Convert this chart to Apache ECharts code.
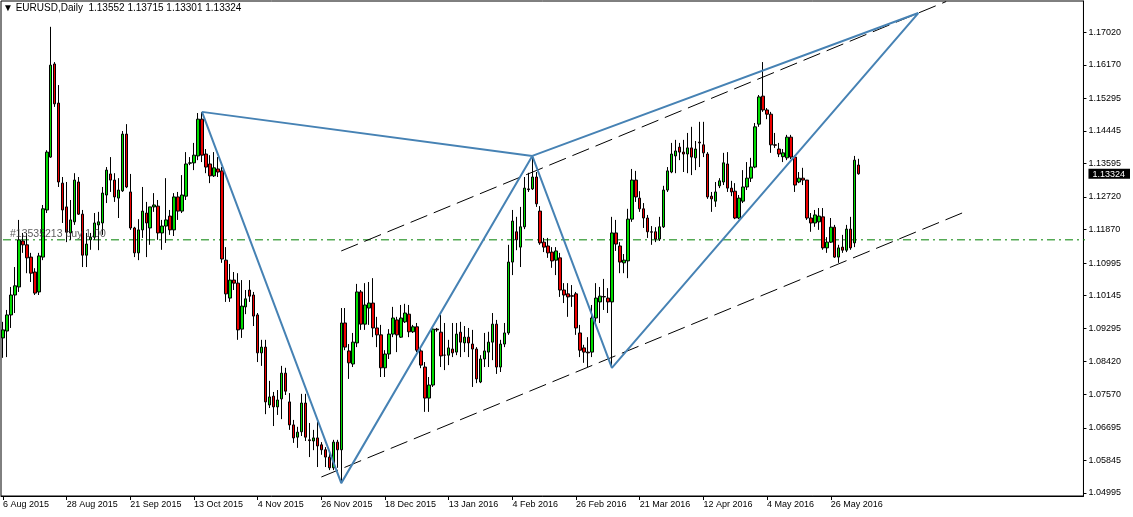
<!DOCTYPE html>
<html>
<head>
<meta charset="utf-8">
<script src="https://cdn.jsdelivr.net/npm/echarts@6/dist/echarts.min.js"></script>
<style>
html,body{margin:0;padding:0;background:#fff;}
#chart{width:1133px;height:517px;}
</style>
</head>
<body>
<div id="chart"></div>
<script>
// ---- Data (EURUSD daily) ----
const opens = [
1.0904,1.0922,1.0964,1.1016,1.1037,1.1157,1.1147,1.1115,1.1076,1.1024,
1.1115,1.1238,1.1376,1.1619,1.1517,1.1308,1.1246,1.1178,1.1207,1.1311,
1.1227,1.1120,1.1160,1.1167,1.1199,1.1204,1.1277,1.1332,1.1316,1.1269,
1.1288,1.1436,1.1285,1.1191,1.1126,1.1186,1.1230,1.1191,1.1246,1.1248,
1.1178,1.1196,1.1222,1.1186,1.1272,1.1235,1.1274,1.1360,1.1361,1.1379,
1.1475,1.1384,1.1358,1.1327,1.1345,1.1340,1.1107,1.1008,1.1055,1.1047,
1.0927,1.0985,1.1029,1.1016,1.0964,1.0865,1.0880,1.0729,1.0752,1.0724,
1.0745,1.0812,1.0737,1.0677,1.0645,1.0659,1.0734,1.0638,1.0635,1.0643,
1.0625,1.0612,1.0593,1.0565,1.0632,1.0612,1.0943,1.0870,1.0836,1.0891,
1.1024,1.0940,1.0982,1.0995,1.0930,1.0912,1.0826,1.0862,1.0914,1.0951,
1.0906,1.0946,1.0966,1.0920,1.0933,1.0870,1.0828,1.0747,1.0781,1.0927,
1.0919,1.0859,1.0859,1.0875,1.0867,1.0919,1.0891,1.0906,1.0888,1.0875,
1.0789,1.0849,1.0867,1.0893,1.0940,1.0828,1.0888,1.0917,1.1102,1.1181,
1.1141,1.1194,1.1293,1.1293,1.1324,1.1235,1.1154,1.1144,1.1128,1.1107,
1.1113,1.1029,1.1019,1.1014,1.1019,1.0917,1.0878,1.0867,1.0867,1.0956,
1.0998,1.1012,1.1008,1.0998,1.1178,1.1144,1.1100,1.1105,1.1214,1.1316,
1.1269,1.1241,1.1217,1.1181,1.1181,1.1162,1.1194,1.1290,1.1337,1.1379,
1.1402,1.1389,1.1384,1.1400,1.1374,1.1415,1.1408,1.1384,1.1274,1.1261,
1.1301,1.1311,1.1358,1.1295,1.1287,1.1217,1.1261,1.1298,1.1321,1.1350,
1.1462,1.1535,1.1499,1.1488,1.1408,1.1397,1.1377,1.1374,1.1428,1.1376,
1.1311,1.1321,1.1316,1.1217,1.1204,1.1207,1.1220,1.1139,1.1154,1.1193,
1.1115,1.1141,1.1133,1.1188,1.1152,1.13552];
const highs = [
1.0946,1.0977,1.1037,1.1089,1.1212,1.1178,1.1178,1.1126,1.1086,1.1126,
1.1251,1.1394,1.1716,1.1624,1.1564,1.1324,1.1311,1.1264,1.1334,1.1324,
1.1238,1.1178,1.1178,1.1230,1.1233,1.1298,1.1350,1.1376,1.1334,1.1321,
1.1444,1.1462,1.1332,1.1194,1.1214,1.1298,1.1259,1.1246,1.1282,1.1264,
1.1212,1.1321,1.1238,1.1282,1.1285,1.1329,1.1389,1.1376,1.1413,1.1491,
1.1494,1.1397,1.1381,1.1389,1.1376,1.1350,1.1141,1.1097,1.1076,1.1073,
1.1055,1.1029,1.1055,1.1024,1.0969,1.0899,1.0899,1.0792,1.0763,1.0768,
1.0831,1.0826,1.0760,1.0690,1.0672,1.0758,1.0758,1.0682,1.0664,1.0685,
1.0632,1.0619,1.0606,1.0638,1.0638,1.0982,1.0982,1.0888,1.0917,1.1045,
1.1029,1.1047,1.1050,1.1060,1.0959,1.0938,1.0872,1.0927,1.0985,1.0959,
1.0990,1.0993,1.0990,1.0938,1.0943,1.0880,1.0841,1.0802,1.0933,1.0930,
1.0964,1.0943,1.0899,1.0943,1.0943,1.0946,1.0935,1.0930,1.0925,1.0880,
1.0859,1.0917,1.0920,1.0969,1.0951,1.0899,1.0943,1.1147,1.1238,1.1220,
1.1246,1.1324,1.1335,1.1379,1.1337,1.1248,1.1165,1.1165,1.1141,1.1141,
1.1126,1.1047,1.1047,1.1042,1.1024,1.0938,1.0886,1.0906,1.0990,1.1047,
1.1037,1.1058,1.1034,1.1220,1.1212,1.1154,1.1123,1.1241,1.1345,1.1340,
1.1287,1.1256,1.1225,1.1196,1.1193,1.1220,1.1301,1.1350,1.1413,1.1421,
1.1413,1.1421,1.1439,1.1455,1.1418,1.1468,1.1468,1.1389,1.1285,1.1311,
1.1321,1.1387,1.1389,1.1314,1.1308,1.1277,1.1342,1.1363,1.1374,1.1465,
1.1538,1.1624,1.1504,1.1494,1.1439,1.1413,1.1397,1.1434,1.1434,1.1380,
1.1337,1.1348,1.1316,1.1230,1.1238,1.1243,1.1243,1.1167,1.1217,1.1199,
1.1147,1.1173,1.1199,1.1220,1.1379,1.13715];
const lows = [
1.0852,1.0854,1.0930,1.0969,1.1024,1.1126,1.1073,1.1050,1.1016,1.1016,
1.1107,1.1230,1.1374,1.1507,1.1298,1.1204,1.1154,1.1160,1.1199,1.1225,
1.1089,1.1089,1.1134,1.1160,1.1133,1.1173,1.1256,1.1285,1.1259,1.1217,
1.1285,1.1295,1.1186,1.1115,1.1107,1.1165,1.1115,1.1147,1.1233,1.1160,
1.1134,1.1152,1.1173,1.1170,1.1212,1.1230,1.1264,1.1355,1.1342,1.1368,
1.1363,1.1334,1.1308,1.1324,1.1324,1.1100,1.0998,1.0998,1.1029,1.0899,
1.0904,1.0966,1.0998,1.0935,1.0841,1.0831,1.0705,1.0721,1.0674,1.0703,
1.0692,1.0755,1.0664,1.0630,1.0617,1.0648,1.0635,1.0593,1.0611,1.0567,
1.0599,1.0567,1.0559,1.0559,1.0565,1.0525,1.0872,1.0797,1.0828,1.0880,
1.0925,1.0925,1.0938,1.0906,1.0880,1.0802,1.0802,1.0849,1.0906,1.0867,
1.0904,1.0943,1.0906,1.0917,1.0867,1.0825,1.0711,1.0711,1.0776,1.0920,
1.0828,1.0820,1.0833,1.0854,1.0859,1.0854,1.0867,1.0854,1.0776,1.0786,
1.0786,1.0828,1.0828,1.0846,1.0810,1.0815,1.0880,1.0912,1.1068,1.1133,
1.1089,1.1188,1.1285,1.1290,1.1246,1.1147,1.1128,1.1113,1.1087,1.1068,
1.1011,1.0995,1.0959,1.0985,1.0912,1.0854,1.0839,1.0828,1.0854,1.0940,
1.0943,1.0977,1.0969,1.0826,1.1131,1.1073,1.1073,1.1060,1.1207,1.1259,
1.1233,1.1191,1.1165,1.1147,1.1154,1.1157,1.1191,1.1285,1.1334,1.1334,
1.1368,1.1337,1.1334,1.1329,1.1342,1.1350,1.1376,1.1267,1.1233,1.1246,
1.1295,1.1303,1.1285,1.1274,1.1214,1.1214,1.1256,1.1290,1.1311,1.1347,
1.1455,1.1494,1.1475,1.1387,1.1400,1.1376,1.1363,1.1368,1.1371,1.1285,
1.1308,1.1303,1.1212,1.1181,1.1194,1.1186,1.1134,1.1126,1.1152,1.1113,
1.1100,1.1126,1.1128,1.1134,1.1141,1.13301];
const closes = [
1.0925,1.0964,1.1016,1.1040,1.1160,1.1147,1.1113,1.1073,1.1021,1.1118,
1.1241,1.1389,1.1616,1.1515,1.1311,1.1238,1.1180,1.1212,1.1316,1.1227,
1.1120,1.1149,1.1167,1.1204,1.1207,1.1282,1.1342,1.1316,1.1272,1.1290,
1.1436,1.1298,1.1191,1.1126,1.1186,1.1235,1.1204,1.1246,1.1251,1.1178,
1.1196,1.1212,1.1186,1.1272,1.1235,1.1277,1.1358,1.1361,1.1381,1.1475,
1.1381,1.1350,1.1327,1.1348,1.1337,1.1110,1.1019,1.1055,1.1047,1.0925,
1.0987,1.1006,1.1013,1.0961,1.0865,1.0880,1.0737,1.0750,1.0724,1.0742,
1.0812,1.0765,1.0677,1.0643,1.0658,1.0734,1.0645,1.0636,1.0643,1.0622,
1.0612,1.0593,1.0565,1.0632,1.0612,1.0943,1.0880,1.0839,1.0893,1.1024,
1.0940,1.0990,1.0995,1.0930,1.0912,1.0826,1.0862,1.0914,1.0956,1.0912,
1.0956,1.0969,1.0920,1.0933,1.0872,1.0833,1.0747,1.0781,1.0927,1.0925,
1.0857,1.0859,1.0878,1.0865,1.0914,1.0893,1.0906,1.0891,1.0875,1.0797,
1.0849,1.0870,1.0893,1.0940,1.0828,1.0888,1.0917,1.1102,1.1209,1.1160,
1.1194,1.1295,1.1291,1.1324,1.1254,1.1152,1.1141,1.1126,1.1105,1.1131,
1.1029,1.1016,1.1011,1.1013,1.0930,1.0872,1.0867,1.0865,1.0956,1.1008,
1.1013,1.1011,1.0998,1.1178,1.1149,1.1102,1.1107,1.1214,1.1316,1.1272,
1.1241,1.1217,1.1181,1.1180,1.1162,1.1194,1.1290,1.1340,1.1384,1.1392,
1.1389,1.1384,1.1400,1.1376,1.1397,1.1413,1.1387,1.1272,1.1267,1.1285,
1.1314,1.1361,1.1295,1.1285,1.1217,1.1269,1.1298,1.1321,1.1350,1.1455,
1.1533,1.1499,1.1488,1.1408,1.1407,1.1384,1.1387,1.1428,1.1376,1.1303,
1.1321,1.1316,1.1217,1.1204,1.1225,1.1222,1.1139,1.1154,1.1193,1.1115,
1.1139,1.1133,1.1188,1.1139,1.1368,1.13324];

// Tick labels
const priceTicks = [1.04995,1.05845,1.06695,1.07570,1.08420,1.09295,1.10145,1.10995,1.11870,1.12720,1.13595,1.14445,1.15295,1.16170,1.17020];
const priceTickLabels = ['1.04995','1.05845','1.06695','1.07570','1.08420','1.09295','1.10145','1.10995','1.11870','1.12720','1.13595','1.14445','1.15295','1.16170','1.17020'];
const dateTickLabels = ['6 Aug 2015','28 Aug 2015','21 Sep 2015','13 Oct 2015','4 Nov 2015','26 Nov 2015','18 Dec 2015','13 Jan 2016','4 Feb 2016','26 Feb 2016','21 Mar 2016','12 Apr 2016','4 May 2016','26 May 2016'];

// Pattern points [bar index, price]
const harmonicXAB = [[50,1.1494],[85,1.0525],[133.25,1.1379],[50,1.1494]];
const harmonicBCD = [[133.25,1.1379],[153,1.0826],[229.5,1.1752],[133.25,1.1379]];
const channelLower = [[80,1.0541],[240.5,1.1230]];
const channelUpper = [[85,1.1131],[237,1.1782]];
const orderLevel = 1.1160;
const orderText = '#13535213 buy 1.00';
const lastPrice = 1.13324;
const titleText = '\u25BC EURUSD,Daily  1.13552 1.13715 1.13301 1.13324';

// Calendar of trading days (weekdays, no 25 Dec / 1 Jan)
const MON = ['Jan','Feb','Mar','Apr','May','Jun','Jul','Aug','Sep','Oct','Nov','Dec'];
const categories = [];
{
  let t = Date.UTC(2015,7,6);
  while (categories.length < opens.length) {
    const d = new Date(t);
    const wd = d.getUTCDay();
    const hol = (d.getUTCMonth()===11 && d.getUTCDate()===25) || (d.getUTCMonth()===0 && d.getUTCDate()===1);
    if (wd !== 0 && wd !== 6 && !hol) categories.push(d.getUTCDate()+' '+MON[d.getUTCMonth()]+' '+d.getUTCFullYear());
    t += 86400000;
  }
}
const TOTAL_SLOTS = 272;
for (let i = categories.length; i < TOTAL_SLOTS; i++) categories.push('f' + i);

const candleData = opens.map((o,i)=>[o, closes[i], lows[i], highs[i]]);
const orderLine = [[-0.5, orderLevel], [TOTAL_SLOTS - 0.5, orderLevel]];

const FONT = '"Liberation Sans", Arial, sans-serif';
const showIdx = (idx) => idx % 16 === 0 && idx < opens.length;

const chart = echarts.init(document.getElementById('chart'), null, {renderer:'canvas'});
chart.setOption({
  animation: false,
  backgroundColor: '#fff',
  title: {
    text: titleText, left: 3, top: 3, padding: 0,
    textStyle: {fontSize: 10, fontWeight: 'normal', color: '#000', fontFamily: FONT}
  },
  grid: {left: 1, top: 1, right: 42, bottom: 21, show: true, borderColor: '#000', borderWidth: 1, backgroundColor: '#fff'},
  xAxis: {
    type: 'category', data: categories, boundaryGap: true,
    axisLine: {show: true, lineStyle: {color: '#000', width: 1}},
    axisTick: {show: true, alignWithLabel: true, length: 4, interval: (i)=>showIdx(i), lineStyle: {color: '#000'}},
    axisLabel: {
      show: true, interval: (i)=>showIdx(i), align: 'left', margin: 4,
      fontSize: 9, color: '#000', fontFamily: FONT,
      formatter: (v, i) => dateTickLabels[i/16] || ''
    },
    splitLine: {show: false}
  },
  yAxis: {
    type: 'value', position: 'right', min: 1.04914, max: 1.17834, scale: true,
    axisLine: {show: true, lineStyle: {color: '#000', width: 1}},
    axisTick: {show: true, length: 3, customValues: priceTicks, lineStyle: {color: '#000'}},
    axisLabel: {
      show: true, margin: 5, fontSize: 9, color: '#000', fontFamily: FONT,
      customValues: priceTicks.concat([lastPrice]),
      formatter: (v) => {
        if (Math.abs(v - lastPrice) < 1e-7) return '{cur|' + lastPrice.toFixed(5) + '}';
        let k = 0, best = 1;
        priceTicks.forEach((p,j)=>{ const d = Math.abs(p-v); if (d < best) {best = d; k = j;} });
        return priceTickLabels[k];
      },
      rich: {cur: {backgroundColor: '#000', color: '#fff', padding: [1,5,0,4], fontSize: 9, fontFamily: FONT}}
    },
    splitLine: {show: false}
  },
  series: [
    {
      type: 'line', data: orderLine, symbol: 'none', silent: true,
      lineStyle: {color: '#008000', width: 1, type: [8,4,2,4]},
      endLabel: {show: false},
      z: 1
    },
    {
      type: 'candlestick', data: candleData, barWidth: 3,
      itemStyle: {color: '#00dc00', color0: '#ee0000', borderColor: '#000', borderColor0: '#000', borderWidth: 1},
      z: 2
    },
    {
      type: 'scatter', data: [[0, orderLevel]], symbolSize: 0, silent: true,
      label: {show: true, position: 'right', offset: [2, -6], formatter: orderText, color: '#333', fontSize: 10.5, fontFamily: FONT},
      z: 5
    },
    {type: 'line', data: channelLower, symbol: 'none', silent: true, lineStyle: {color: '#000', width: 1, type: [18,7]}, z: 3},
    {type: 'line', data: channelUpper, symbol: 'none', silent: true, lineStyle: {color: '#000', width: 1, type: [18,7]}, z: 3},
    {type: 'line', data: harmonicXAB, symbol: 'none', silent: true, lineStyle: {color: '#4682b4', width: 2}, z: 4},
    {type: 'line', data: harmonicBCD, symbol: 'none', silent: true, lineStyle: {color: '#4682b4', width: 2}, z: 4}
  ]
});
</script>
</body>
</html>
